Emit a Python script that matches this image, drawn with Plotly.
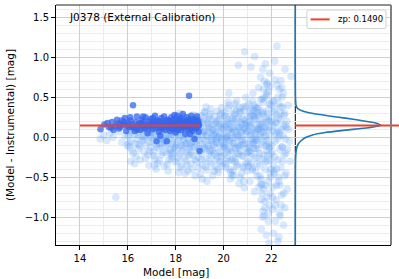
import plotly.graph_objects as go

# ---------------- data ----------------
zp = 0.1490

dark_mag = [14.86, 15.02, 15.21, 15.34, 15.48, 15.55, 15.63, 15.71, 15.80, 15.88,
            15.93, 16.01, 16.05, 16.12, 16.18, 16.22, 16.27, 16.33, 16.38, 16.42,
            16.47, 16.52, 16.58, 16.61, 16.66, 16.70, 16.74, 16.79, 16.83, 16.88,
            16.92, 16.95, 17.00, 17.03, 17.07, 17.11, 17.14, 17.18, 17.20, 17.24,
            17.27, 17.30, 17.34, 17.37, 17.40, 17.43, 17.46, 17.50, 17.52, 17.55,
            17.58, 17.61, 17.63, 17.66, 17.69, 17.71, 17.74, 17.77, 17.79, 17.82,
            17.85, 17.87, 17.90, 17.92, 17.95, 17.97, 18.00, 18.02, 18.05, 18.07,
            18.10, 18.12, 18.15, 18.17, 18.20, 18.22, 18.25, 18.27, 18.30, 18.32,
            18.35, 18.37, 18.40, 18.42, 18.44, 18.47, 18.49, 18.52, 18.54, 18.56,
            18.58, 18.61, 18.63, 18.65, 18.68, 18.70, 18.72, 18.75, 18.77, 18.79,
            18.81, 18.84, 18.86, 18.88, 18.90, 18.92, 18.94, 18.96, 18.98, 19.00,
            16.15, 16.55, 16.85, 17.15, 17.45, 17.75, 18.05, 18.35, 18.65, 18.95,
            15.75, 16.40, 16.98, 17.32, 17.68, 18.08, 18.45, 18.83, 17.05, 18.50,
            15.40, 16.10, 16.72, 17.22, 17.55, 17.88, 18.18, 18.60, 18.91, 17.95,
            15.15, 15.30, 15.58, 15.68, 15.84, 15.96, 16.30, 16.64, 17.36, 17.84]
dark_diff = [0.10, 0.16, 0.13, 0.19, 0.14, 0.22, 0.11, 0.17, 0.15, 0.24,
             0.08, 0.18, 0.13, 0.21, 0.16, 0.40, 0.12, 0.19, 0.26, 0.14,
             0.17, 0.09, 0.22, 0.15, 0.19, 0.12, 0.25, 0.16, 0.05, 0.20,
             0.13, 0.23, 0.17, 0.10, 0.19, 0.15, 0.27, 0.12, -0.05, 0.21,
             0.16, 0.07, 0.20, 0.14, 0.24, 0.11, 0.18, 0.15, 0.26, 0.09,
             0.19, 0.13, -0.05, 0.22, 0.16, 0.12, 0.20, 0.08, 0.17, 0.25,
             0.14, 0.19, 0.10, 0.23, 0.15, 0.18, 0.06, 0.21, 0.13, 0.27,
             0.16, 0.11, 0.20, 0.14, 0.24, 0.09, 0.18, 0.15, 0.29, 0.12,
             0.21, 0.17, 0.04, 0.19, 0.13, 0.25, 0.16, 0.10, 0.22, 0.52,
             0.15, 0.20, 0.12, 0.27, 0.17, 0.08, 0.23, 0.14, 0.19, -0.02,
             0.16, 0.22, 0.11, 0.18, 0.26, 0.13, 0.20, 0.07, 0.15, -0.17,
             0.13, 0.18, 0.14, 0.17, 0.13, 0.15, 0.18, 0.13, 0.11, 0.17,
             0.21, 0.10, 0.16, 0.12, 0.21, 0.09, 0.14, 0.12, 0.24, 0.19,
             0.09, 0.25, 0.11, 0.20, 0.17, 0.12, 0.22, 0.04, 0.21, 0.28,
             0.18, 0.12, 0.17, 0.13, 0.19, 0.15, 0.08, 0.26, 0.02, 0.11]

light_mag = [14.85, 14.98, 15.12, 15.25, 15.38, 15.50, 15.62, 15.75, 15.88, 15.97,
             16.02, 16.06, 16.10, 16.14, 16.19, 16.23, 16.27, 16.31, 16.36, 16.40,
             16.44, 16.48, 16.52, 16.56, 16.60, 16.64, 16.68, 16.72, 16.76, 16.80,
             16.84, 16.87, 16.90, 16.93, 16.96, 16.99, 16.12, 16.46, 16.70, 16.88,
             17.01, 17.04, 17.07, 17.10, 17.13, 17.16, 17.19, 17.22, 17.25, 17.28,
             17.31, 17.34, 17.37, 17.40, 17.43, 17.46, 17.49, 17.52, 17.55, 17.58,
             17.61, 17.64, 17.67, 17.70, 17.73, 17.76, 17.79, 17.82, 17.85, 17.88,
             17.91, 17.94, 17.97, 17.99, 17.18, 17.42, 17.60, 17.80, 17.27, 17.72,
             18.01, 18.03, 18.05, 18.08, 18.10, 18.12, 18.14, 18.17, 18.19, 18.21,
             18.23, 18.26, 18.28, 18.30, 18.33, 18.35, 18.37, 18.39, 18.42, 18.44,
             18.46, 18.48, 18.51, 18.53, 18.55, 18.57, 18.60, 18.62, 18.64, 18.66,
             18.69, 18.71, 18.73, 18.75, 18.78, 18.80, 18.82, 18.84, 18.87, 18.89,
             18.91, 18.93, 18.96, 18.98, 18.16, 18.40, 18.58, 18.77, 18.86, 18.95,
             19.02, 19.04, 19.06, 19.08, 19.10, 19.12, 19.14, 19.16, 19.18, 19.20,
             19.22, 19.24, 19.26, 19.28, 19.30, 19.32, 19.34, 19.36, 19.38, 19.40,
             19.42, 19.44, 19.46, 19.48, 19.50, 19.52, 19.54, 19.56, 19.58, 19.60,
             19.62, 19.64, 19.66, 19.68, 19.70, 19.72, 19.74, 19.76, 19.78, 19.80,
             19.82, 19.84, 19.86, 19.88, 19.90, 19.92, 19.94, 19.96, 19.98, 19.99,
             19.11, 19.27, 19.43, 19.57, 19.69, 19.81, 19.93, 19.35, 19.63, 19.87,
             20.01, 20.03, 20.05, 20.07, 20.09, 20.11, 20.13, 20.15, 20.17, 20.19,
             20.21, 20.23, 20.25, 20.27, 20.29, 20.31, 20.33, 20.35, 20.37, 20.39,
             20.41, 20.43, 20.45, 20.47, 20.49, 20.51, 20.53, 20.55, 20.57, 20.59,
             20.61, 20.63, 20.65, 20.67, 20.69, 20.71, 20.73, 20.75, 20.77, 20.79,
             20.81, 20.83, 20.85, 20.87, 20.89, 20.91, 20.93, 20.95, 20.97, 20.99,
             20.06, 20.16, 20.26, 20.36, 20.46, 20.56, 20.66, 20.76, 20.86, 20.96,
             20.12, 20.32, 20.52, 20.72, 20.92, 20.22, 20.42, 20.62, 20.82, 20.88,
             21.01, 21.03, 21.05, 21.07, 21.09, 21.11, 21.13, 21.15, 21.17, 21.19,
             21.21, 21.23, 21.25, 21.27, 21.29, 21.31, 21.33, 21.35, 21.37, 21.39,
             21.41, 21.43, 21.45, 21.47, 21.49, 21.51, 21.53, 21.55, 21.57, 21.59,
             21.61, 21.63, 21.65, 21.67, 21.69, 21.71, 21.73, 21.75, 21.77, 21.79,
             21.81, 21.83, 21.85, 21.87, 21.89, 21.91, 21.93, 21.95, 21.97, 21.99,
             21.04, 21.12, 21.20, 21.28, 21.36, 21.44, 21.52, 21.60, 21.68, 21.76,
             21.84, 21.92, 21.08, 21.24, 21.40, 21.56, 21.72, 21.88, 21.96, 21.16,
             21.32, 21.48, 21.64, 21.80, 21.94, 21.58, 21.66, 21.74, 21.82, 21.90,
             21.62, 21.70, 21.78, 21.86, 21.98, 21.54, 21.46, 21.34, 21.26, 21.14,
             22.01, 22.03, 22.05, 22.07, 22.09, 22.11, 22.13, 22.15, 22.17, 22.19,
             22.21, 22.23, 22.25, 22.27, 22.29, 22.31, 22.33, 22.35, 22.37, 22.39,
             22.41, 22.43, 22.45, 22.47, 22.49, 22.51, 22.53, 22.55, 22.57, 22.60,
             22.63, 22.66, 22.70, 22.75, 22.02, 22.08, 22.14, 22.20, 22.26, 22.32,
             22.38, 22.44, 22.50, 22.56, 22.12, 22.24, 22.36, 22.18, 22.06, 22.30,
             21.30, 22.82, 22.40, 21.15]
light_diff = [-0.02, 0.03, -0.04, 0.05, 0.00, -0.75, 0.07, -0.06, 0.02, -0.10,
              0.02, -0.12, 0.08, -0.05, 0.12, -0.20, 0.04, -0.08, 0.15, -0.02,
              -0.15, 0.06, -0.28, 0.10, -0.04, 0.01, -0.18, 0.09, -0.10, 0.05,
              -0.22, 0.12, -0.06, 0.03, -0.13, 0.07, -0.30, -0.09, 0.00, -0.35,
              -0.05, 0.10, -0.18, 0.03, -0.27, 0.14, -0.09, 0.00, -0.32, 0.07,
              -0.14, 0.18, -0.02, -0.22, 0.05, -0.11, 0.11, -0.36, -0.04, 0.02,
              -0.19, 0.09, -0.07, -0.28, 0.13, -0.01, -0.15, 0.06, -0.24, -0.08,
              0.16, -0.12, 0.01, -0.31, -0.40, 0.20, -0.03, -0.20, 0.12, 0.04,
              0.05, -0.16, 0.21, -0.06, -0.30, 0.12, -0.01, -0.21, 0.08, -0.10,
              0.17, -0.36, 0.02, -0.13, 0.25, -0.04, -0.26, 0.10, -0.08, 0.04,
              -0.19, 0.14, -0.42, -0.02, 0.07, -0.15, 0.22, -0.07, -0.33, 0.01,
              0.11, -0.23, -0.05, 0.18, -0.12, 0.06, -0.28, 0.27, -0.09, 0.03,
              -0.17, 0.13, -0.38, 0.09, 0.30, -0.45, -0.11, 0.00, 0.19, -0.25,
              0.12, -0.08, 0.27, -0.20, 0.03, -0.35, 0.18, -0.02, -0.14, 0.08,
              0.32, -0.27, -0.05, 0.15, -0.41, 0.01, 0.22, -0.11, 0.06, -0.30,
              0.11, -0.17, 0.35, -0.04, -0.23, 0.09, -0.48, 0.16, -0.09, 0.02,
              0.26, -0.13, -0.36, 0.07, 0.19, -0.06, -0.25, 0.13, 0.00, -0.44,
              0.23, -0.10, 0.05, -0.19, 0.30, -0.01, -0.32, 0.14, -0.07, 0.10,
              -0.52, 0.38, -0.15, 0.04, -0.28, 0.21, -0.03, 0.17, -0.21, 0.28,
              0.05, -0.22, 0.31, -0.09, 0.14, -0.38, 0.00, 0.22, -0.15, 0.09,
              -0.30, 0.40, -0.04, 0.17, -0.52, 0.03, -0.19, 0.28, -0.07, 0.11,
              -0.42, 0.19, -0.12, 0.35, -0.01, -0.26, 0.07, 0.45, -0.34, 0.13,
              -0.10, 0.24, -0.58, 0.02, -0.17, 0.32, 0.08, -0.45, 0.16, -0.05,
              0.38, -0.24, 0.10, -0.63, 0.21, -0.08, 0.50, -0.32, 0.04, 0.26,
              -0.13, 0.18, -0.40, 0.06, 0.29, -0.20, 0.12, -0.02, 0.34, -0.14,
              0.01, -0.28, 0.23, -0.09, 0.15, 0.55, -0.48, 0.90, -0.36, 1.07,
              0.08, -0.31, 0.42, -0.12, 0.19, -0.55, 0.03, 0.28, -0.20, 0.12,
              -0.41, 0.55, -0.06, 0.22, -0.68, 0.05, -0.26, 0.37, -0.02, 0.15,
              -0.49, 0.30, -0.15, 0.62, 0.00, -0.35, 0.10, 0.47, -0.78, 0.18,
              -0.09, 0.33, -0.92, 0.06, -0.22, 0.70, 0.13, -0.60, 0.25, -0.04,
              0.52, -0.30, 0.09, -1.05, 0.35, -0.13, 0.80, -0.45, 0.02, 0.40,
              -0.18, 0.26, -0.38, 0.07, 0.31, -0.25, 0.16, -0.70, 0.44, -0.11,
              0.21, -0.85, 0.14, -0.08, 0.36, -0.52, 0.01, 0.58, -0.28, -0.03,
              0.23, -0.62, 0.85, -0.16, 0.12, -1.15, 0.29, -0.40, 0.66, -0.07,
              0.48, -0.98, 0.19, -0.55, -0.21, 0.04, 0.27, -0.14, 0.34, -0.33,
              -0.10, 0.45, -0.62, 0.15, -1.20, 0.32, -0.25, 0.72, -0.85, 0.05,
              -0.40, 1.14, -0.02, -1.30, 0.24, -0.55, 0.60, -0.15, -0.98, 0.38,
              0.10, -0.72, 0.50, -0.30, 0.02, -1.10, 0.28, -0.48, 0.85, -0.20,
              0.12, -0.65, 0.40, -0.05, 0.20, -0.35, 0.95, -0.78, 0.08, -1.25,
              0.30, -0.12, 0.55, -0.88, -0.45, 0.65, -0.60, 0.18, -0.90, 0.42,
              1.01, 0.76, 0.71, 0.88]

light_mag_b = [16.03, 16.09, 16.17, 16.25, 16.34, 16.43, 16.51, 16.59, 16.67, 16.75,
               16.82, 16.91, 16.97, 16.29, 16.63,
               17.02, 17.09, 17.15, 17.21, 17.26, 17.33, 17.38, 17.44, 17.48, 17.53,
               17.59, 17.65, 17.69, 17.74, 17.78, 17.84, 17.89, 17.93, 17.98, 17.12,
               17.36, 17.56, 17.81, 17.47, 17.68,
               18.02, 18.06, 18.11, 18.15, 18.18, 18.24, 18.29, 18.34, 18.38, 18.43,
               18.48, 18.52, 18.56, 18.61, 18.65, 18.70, 18.74, 18.79, 18.83, 18.88,
               18.92, 18.97, 18.13, 18.31, 18.47, 18.63, 18.81, 18.99, 18.27, 18.72,
               19.01, 19.05, 19.09, 19.13, 19.17, 19.21, 19.25, 19.29, 19.33, 19.37,
               19.41, 19.45, 19.49, 19.53, 19.57, 19.61, 19.65, 19.69, 19.73, 19.77,
               19.81, 19.85, 19.89, 19.93, 19.97, 19.03, 19.15, 19.23, 19.39, 19.47,
               19.55, 19.67, 19.75, 19.83, 19.91, 19.19, 19.31, 19.51, 19.71, 19.95,
               20.02, 20.04, 20.08, 20.10, 20.14, 20.18, 20.20, 20.24, 20.28, 20.30,
               20.34, 20.38, 20.40, 20.44, 20.48, 20.50, 20.54, 20.58, 20.60, 20.64,
               20.68, 20.70, 20.74, 20.78, 20.80, 20.84, 20.88, 20.90, 20.94, 20.98,
               20.05, 20.15, 20.25, 20.35, 20.45, 20.55, 20.65, 20.75, 20.85, 20.95,
               20.09, 20.19, 20.29, 20.39, 20.49, 20.59, 20.69, 20.79, 20.89, 20.99,
               21.02, 21.06, 21.10, 21.14, 21.18, 21.22, 21.26, 21.30, 21.34, 21.38,
               21.42, 21.46, 21.50, 21.54, 21.58, 21.62, 21.66, 21.70, 21.74, 21.78,
               21.82, 21.86, 21.90, 21.94, 21.98, 21.05, 21.13, 21.21, 21.29, 21.37,
               21.45, 21.53, 21.61, 21.69, 21.77, 21.85, 21.93, 21.09, 21.25, 21.41,
               21.57, 21.73, 21.89, 21.97, 21.17, 21.33, 21.49, 21.65, 21.81, 21.95,
               21.63, 21.71, 21.79, 21.87, 21.55, 21.67, 21.75, 21.83, 21.91, 21.59,
               22.02, 22.04, 22.08, 22.10, 22.14, 22.16, 22.20, 22.22, 22.26, 22.28,
               22.32, 22.34, 22.38, 22.40, 22.44, 22.46, 22.50, 22.52, 22.56, 22.58,
               22.62, 22.65, 22.68, 22.72, 22.78, 22.05, 22.11, 22.17, 22.23, 22.29,
               22.35, 22.41, 22.47, 22.53, 22.59]
light_diff_b = [-0.07, 0.04, -0.16, 0.09, -0.24, 0.03, -0.11, 0.13, -0.03, -0.26,
                0.08, -0.17, 0.00, -0.33, 0.11,
                0.06, -0.23, 0.11, -0.12, -0.02, -0.29, 0.08, -0.06, -0.19, 0.15,
                -0.10, -0.34, 0.04, -0.16, 0.10, -0.03, -0.21, 0.07, -0.13, -0.35,
                -0.08, 0.12, -0.27, 0.00, -0.42,
                -0.09, 0.16, -0.25, 0.02, -0.38, 0.10, -0.17, -0.03, 0.20, -0.29,
                -0.07, 0.13, -0.22, 0.05, -0.12, -0.40, 0.09, -0.05, 0.15, -0.31,
                0.01, -0.14, -0.44, 0.24, -0.35, -0.20, -0.48, 0.20, -0.11, 0.28,
                -0.04, 0.20, -0.28, 0.06, -0.12, 0.24, -0.37, 0.03, -0.09, 0.13,
                -0.21, 0.29, -0.01, -0.16, 0.09, -0.42, 0.17, -0.07, 0.33, -0.19,
                0.00, -0.30, 0.12, 0.37, -0.12, -0.46, 0.07, -0.15, 0.25, -0.33,
                -0.05, 0.04, -0.40, 0.15, -0.24, 0.31, -0.55, 0.21, -0.02, -0.36,
                -0.11, 0.16, -0.33, 0.25, 0.01, -0.18, 0.36, -0.06, 0.12, -0.44,
                0.20, -0.01, -0.27, 0.08, 0.42, -0.14, -0.36, 0.15, 0.03, -0.21,
                0.30, -0.50, 0.06, -0.10, 0.23, -0.38, 0.17, -0.03, 0.39, -0.19,
                0.27, -0.26, 0.10, -0.47, -0.08, 0.33, -0.12, 0.19, -0.55, 0.07,
                -0.02, 0.44, -0.16, 0.24, -0.31, 0.00, 0.37, -0.23, 0.11, -0.42,
                0.18, -0.09, 0.33, -0.24, 0.05, 0.45, -0.14, 0.27, -0.42, 0.10,
                -0.03, 0.38, -0.20, 0.22, -0.58, 0.14, -0.06, 0.50, -0.31, 0.02,
                -0.75, 0.29, -0.12, 0.64, -0.40, -0.36, 0.15, -0.02, 0.40, -0.10,
                0.09, -0.48, 0.31, -0.65, 0.11, -0.22, 0.42, -0.17, 0.26, -0.33,
                0.07, -0.88, 0.20, -0.50, 0.35, -0.04, 0.12, -0.27, 0.55, -0.70,
                -1.00, -0.80, -1.22, -0.95, 0.75, 0.60, 0.92, 0.68, -1.32, -0.60,
                0.25, -0.18, 0.08, -0.42, 0.35, -0.05, 0.18, -0.60, 0.50, -0.28,
                0.02, -0.95, 0.22, -0.38, 0.62, -0.12, 0.14, -0.70, 0.30, -0.02,
                -0.45, 0.20, -0.15, 0.10, -0.30, -0.75, 0.45, -1.05, 0.28, -0.50,
                0.05, -0.85, 0.38, -0.22, 0.15]

# density profile (offset from the panel base at mag 23)
kde_base = 23.0
kde_y = [-1.35, -0.40, -0.25, -0.18, -0.12, -0.08, -0.04, 0.00, 0.03, 0.06,
         0.09, 0.12, 0.15, 0.18, 0.21, 0.24, 0.27, 0.30, 0.33, 0.36,
         0.40, 0.50, 1.65]
kde_d = [0.00, 0.005, 0.015, 0.03, 0.07, 0.13, 0.25, 0.45, 0.72, 1.25,
         2.10, 3.05, 3.58, 3.35, 2.75, 2.10, 1.35, 0.70, 0.30, 0.10,
         0.03, 0.008, 0.00]

x_ticks = [14, 16, 18, 20, 22]
y_ticks = [-1.0, -0.5, 0.0, 0.5, 1.0, 1.5]
y_ticktext = ["\u22121.0", "\u22120.5", "0.0", "0.5", "1.0", "1.5"]
legend_label = "zp: %.4f" % zp

x_range = [13.0, 27.0]
y_range = [-1.346, 1.654]

FONT = "DejaVu Sans"
RED = "#f0402a"

fig = go.Figure()

fig.add_trace(go.Scatter(
    x=light_mag + light_mag_b, y=light_diff + light_diff_b,
    mode="markers", showlegend=False,
    marker=dict(size=7.5, color="#5a9ef5", opacity=0.24, line=dict(width=0)),
    hoverinfo="skip"))

fig.add_trace(go.Scatter(
    x=dark_mag, y=dark_diff, mode="markers", showlegend=False,
    marker=dict(size=6.5, color="#3467ee", opacity=0.75, line=dict(width=0)),
    hoverinfo="skip"))

fig.add_trace(go.Scatter(
    x=[14, 19], y=[zp, zp], mode="lines", name=legend_label, showlegend=False,
    line=dict(color=RED, width=2)))

fig.add_trace(go.Scatter(
    x=[kde_base + d for d in kde_d], y=kde_y, mode="lines", showlegend=False,
    line=dict(color="#1f77b4", width=1.6, shape="spline", smoothing=0.6),
    hoverinfo="skip"))

# legend box (paper coordinates)
lx0, lx1, ly0, ly1, r = 0.749, 0.985, 0.902, 0.979, 0.008
rr = r * 240 / 335
legend_path = (f"M {lx0+rr},{ly0} L {lx1-rr},{ly0} Q {lx1},{ly0} {lx1},{ly0+r} "
               f"L {lx1},{ly1-r} Q {lx1},{ly1} {lx1-rr},{ly1} "
               f"L {lx0+rr},{ly1} Q {lx0},{ly1} {lx0},{ly1-r} "
               f"L {lx0},{ly0+r} Q {lx0},{ly0} {lx0+rr},{ly0} Z")

shapes = [
    dict(type="line", xref="x", yref="paper", x0=kde_base, x1=kde_base, y0=0, y1=1,
         line=dict(color="black", width=1), layer="below"),
    dict(type="line", xref="paper", yref="y",
         x0=(kde_base - x_range[0]) / (x_range[1] - x_range[0]), x1=1.024,
         y0=zp, y1=zp, line=dict(color=RED, width=2)),
    dict(type="line", xref="paper", yref="paper", x0=0, x1=1, y0=1, y1=1,
         line=dict(color="#222222", width=1)),
    dict(type="line", xref="paper", yref="paper", x0=1, x1=1, y0=0, y1=1,
         line=dict(color="#808080", width=2)),
    dict(type="path", xref="paper", yref="paper", path=legend_path,
         fillcolor="rgba(255,255,255,0.85)", line=dict(color="#d0d0d0", width=1)),
    dict(type="line", xref="paper", yref="paper", x0=0.760, x1=0.817,
         y0=0.940, y1=0.940, line=dict(color=RED, width=2)),
]

fig.update_layout(
    width=399, height=279,
    margin=dict(l=56, r=8, t=5, b=34),
    paper_bgcolor="white", plot_bgcolor="white",
    font=dict(family=FONT, size=10, color="black"),
    shapes=shapes,
    showlegend=False,
    annotations=[
        dict(text=legend_label, xref="paper", yref="paper",
             x=0.836, y=0.940, xanchor="left", yanchor="middle", showarrow=False,
             font=dict(size=8.5, family=FONT, color="black")),
        dict(text="J0378 (External Calibration)", xref="paper", yref="paper",
             x=0.034, y=0.95, xanchor="left", yanchor="middle", showarrow=False,
             font=dict(size=10.5, family=FONT, color="black")),
        dict(text="Model [mag]", xref="x", yref="paper", x=18.0, y=-0.1125,
             xanchor="center", yanchor="middle", showarrow=False,
             font=dict(size=10.5, family=FONT, color="black")),
        dict(text="(Model - Instrumental) [mag]", xref="paper", yref="paper",
             x=-0.137, y=0.5, xanchor="center", yanchor="middle", showarrow=False,
             textangle=-90, font=dict(size=10.5, family=FONT, color="black")),
    ],
)

fig.update_xaxes(
    range=x_range, tickmode="array", tickvals=x_ticks,
    ticks="outside", ticklen=4, tickcolor="black", tickwidth=1,
    showline=True, linecolor="black", linewidth=1,
    showgrid=True, gridcolor="#cfcfcf", gridwidth=1, zeroline=False,
    tickfont=dict(size=10, family=FONT, color="black"),
    minor=dict(tickmode="array", tickvals=[15, 17, 19, 21], showgrid=True,
               gridcolor="#ececec", gridwidth=1, ticks=""),
)
fig.update_yaxes(
    range=y_range, tickmode="array", tickvals=y_ticks, ticktext=y_ticktext,
    ticks="outside", ticklen=4, tickcolor="black", tickwidth=1,
    showline=True, linecolor="black", linewidth=1,
    showgrid=True, gridcolor="#cfcfcf", gridwidth=1, zeroline=False,
    tickfont=dict(size=10, family=FONT, color="black"),
    minor=dict(tickmode="linear", tick0=0, dtick=0.1, showgrid=True,
               gridcolor="#ececec", gridwidth=1, ticks=""),
)

fig.write_html("out.html", config={"displayModeBar": False},
               post_script="document.body.style.margin='0';document.body.style.overflow='hidden';")
